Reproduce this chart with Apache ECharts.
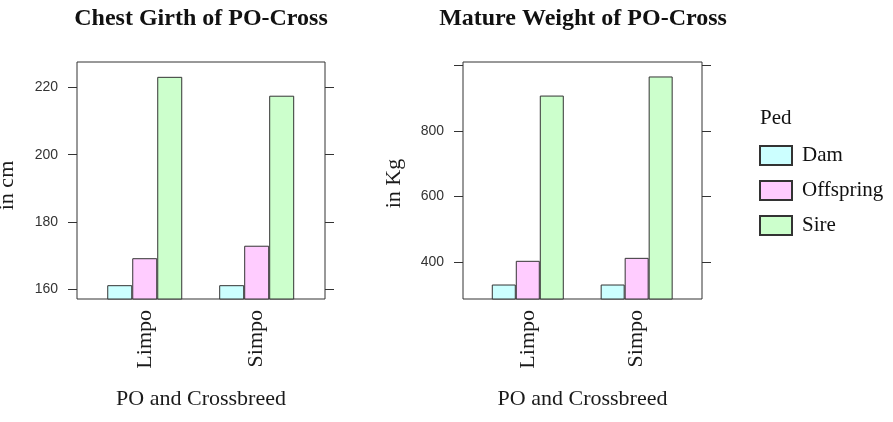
<!DOCTYPE html>
<html>
<head>
<meta charset="utf-8">
<script src="https://cdn.jsdelivr.net/npm/echarts@6/dist/echarts.min.js"></script>
<style>html,body{margin:0;padding:0;background:#fff;}#c{width:893px;height:422px;}</style>
</head>
<body>
<div id="c"></div>
<script>
const categories = ['Limpo', 'Simpo'];
const seriesNames = ['Dam', 'Offspring', 'Sire'];
const colors = ['#CCFFFF', '#FFCCFF', '#CCFFCC'];
const girthDam = [161.3, 161.3];
const girthOffspring = [169.3, 173.0];
const girthSire = [223.1, 217.5];
const weightDam = [333, 333];
const weightOffspring = [405, 414];
const weightSire = [907, 965];
const girthTicks = [160, 180, 200, 220];
const girthLabels = [160, 180, 200, 220];
const weightTicks = [400, 600, 800, 1000];
const weightLabels = [400, 600, 800];
const catPositions = [1, 2];

const serif = 'Liberation Serif, Times New Roman, serif';
const sans = 'Liberation Sans, Arial, sans-serif';

function xAxis(gi, min, max) {
  return {
    type: 'value', gridIndex: gi, min: min, max: max,
    axisLine: {show: false}, axisTick: {show: false}, splitLine: {show: false},
    axisLabel: {
      customValues: catPositions, rotate: 90, margin: 11,
      fontFamily: serif, fontSize: 22, color: '#1a1a1a',
      formatter: v => categories[Math.round(v) - 1] || ''
    },
    name: 'PO and Crossbreed', nameLocation: 'middle', nameGap: 89,
    nameMoveOverlap: false,
    nameTextStyle: {fontFamily: serif, fontSize: 22, color: '#1a1a1a'}
  };
}
function yAxis(gi, min, max, ticks, labels, name, nameGap, namePad, pos) {
  const left = pos === 'left';
  return {
    type: 'value', gridIndex: gi, position: pos, min: min, max: max,
    axisLine: {show: false}, splitLine: {show: false},
    axisTick: {show: true, customValues: ticks, length: 9, lineStyle: {color: '#333', width: 1}},
    axisLabel: left ? {
      customValues: labels, margin: 19, fontFamily: sans, fontSize: 14, color: '#333',
      padding: [6, 0, 0, 0]
    } : {show: false},
    name: left ? name : '', nameLocation: 'middle', nameGap: nameGap,
    nameMoveOverlap: false,
    nameTextStyle: {fontFamily: serif, fontSize: 22, color: '#1a1a1a', padding: namePad}
  };
}
function bars(gi, data, width) {
  return seriesNames.map((n, i) => ({
    name: n, type: 'bar', xAxisIndex: gi, yAxisIndex: gi * 2,
    barWidth: width, barGap: '0%',
    itemStyle: {color: colors[i], borderColor: '#333', borderWidth: 1},
    data: data[i].map((v, j) => [catPositions[j], v])
  }));
}

const chart = echarts.init(document.getElementById('c'));
chart.setOption({
  animation: false,
  backgroundColor: '#fff',
  title: [
    {text: 'Chest Girth of PO-Cross', left: 201, textAlign: 'center', top: 7, padding: 0,
     textStyle: {fontFamily: serif, fontSize: 24, fontWeight: 'bold', color: '#111'}},
    {text: 'Mature Weight of PO-Cross', left: 583, textAlign: 'center', top: 7, padding: 0,
     textStyle: {fontFamily: serif, fontSize: 24, fontWeight: 'bold', color: '#111'}},
    {text: 'Ped', left: 760, top: 108, padding: 0,
     textStyle: {fontFamily: serif, fontSize: 21, fontWeight: 'normal', color: '#111'}}
  ],
  legend: {
    orient: 'vertical', left: 759, top: 145, padding: 0,
    icon: 'rect', itemWidth: 32, itemHeight: 19, itemGap: 14,
    data: seriesNames,
    textStyle: {fontFamily: serif, fontSize: 21, color: '#111', padding: [0, 0, 0, 5]}
  },
  grid: [
    {left: 77, top: 62, width: 248, height: 237, show: true, borderColor: '#333', borderWidth: 1,
     backgroundColor: '#fff', outerBoundsMode: 'none', containLabel: false},
    {left: 463, top: 62, width: 239, height: 237, show: true, borderColor: '#333', borderWidth: 1,
     backgroundColor: '#fff', outerBoundsMode: 'none', containLabel: false}
  ],
  xAxis: [xAxis(0, 0.395, 2.61), xAxis(1, 0.405, 2.6)],
  yAxis: [
    yAxis(0, 157.2, 227.5, girthTicks, girthLabels, 'in cm', 59, [0, 10, 0, 0], 'left'),
    yAxis(0, 157.2, 227.5, girthTicks, girthLabels, '', 0, 0, 'right'),
    yAxis(1, 289, 1009, weightTicks, weightLabels, 'in Kg', 58, [0, 6, 0, 0], 'left'),
    yAxis(1, 289, 1009, weightTicks, weightLabels, '', 0, 0, 'right')
  ],
  series: [].concat(
    bars(0, [girthDam, girthOffspring, girthSire], 25),
    bars(1, [weightDam, weightOffspring, weightSire], 24)
  )
});
</script>
</body>
</html>
